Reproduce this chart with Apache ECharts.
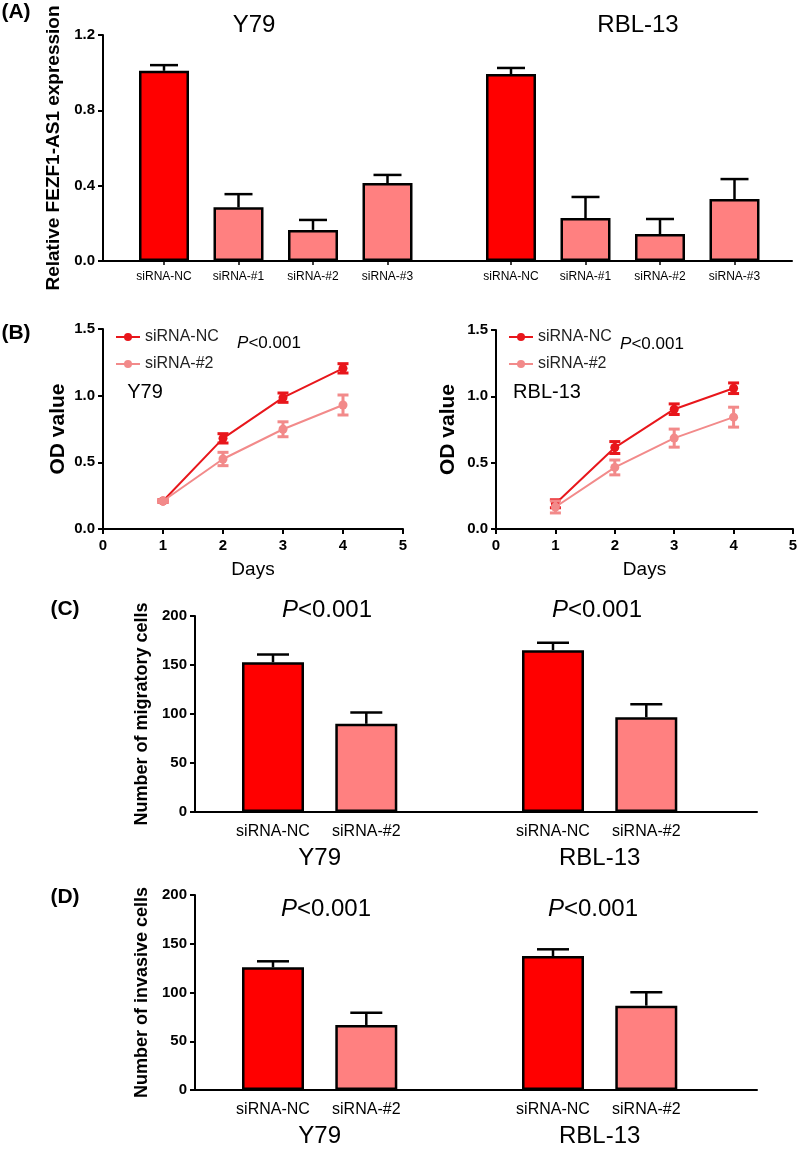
<!DOCTYPE html>
<html><head><meta charset="utf-8">
<script src="https://cdn.jsdelivr.net/npm/echarts@6/dist/echarts.min.js"></script>
<style>html,body{margin:0;padding:0;background:#fff}#c{width:800px;height:1149px}</style>
</head><body><div id="c"></div>
<script>
// ---------- DATA ----------
// Panel A: relative FEZF1-AS1 expression
const aCategories = ['siRNA-NC', 'siRNA-#1', 'siRNA-#2', 'siRNA-#3'];
const aY79Mean = [1.01, 0.285, 0.165, 0.414];
const aY79Sd   = [0.03, 0.07, 0.053, 0.043];
const aRblMean = [0.993, 0.228, 0.143, 0.329];
const aRblSd   = [0.032, 0.112, 0.08, 0.106];
// Panel B: OD value over days
const bDays = [1, 2, 3, 4];
const bY79NcMean = [0.21, 0.68, 0.985, 1.205];
const bY79NcSd   = [0.01, 0.035, 0.035, 0.035];
const bY79Si2Mean = [0.21, 0.525, 0.748, 0.93];
const bY79Si2Sd   = [0.01, 0.05, 0.056, 0.075];
const bRblNcMean = [0.19, 0.614, 0.903, 1.061];
const bRblNcSd   = [0.03, 0.045, 0.04, 0.04];
const bRblSi2Mean = [0.166, 0.464, 0.685, 0.843];
const bRblSi2Sd   = [0.045, 0.056, 0.068, 0.075];
const bSeriesNames = ['siRNA-NC', 'siRNA-#2'];
// Panels C & D
const cdCategories = ['siRNA-NC', 'siRNA-#2'];
const cellLines = ['Y79', 'RBL-13'];
const cY79Mean = [152.8, 90.0];
const cY79Sd   = [7.9, 11.5];
const cRblMean = [165.1, 96.8];
const cRblSd   = [7.6, 13.2];
const dY79Mean = [125.8, 66.7];
const dY79Sd   = [6.2, 12.6];
const dRblMean = [137.4, 86.5];
const dRblSd   = [6.9, 13.7];
const pText = 'P<0.001';

// ---------- STYLE ----------
const FONT = '"Liberation Sans", Arial, Helvetica, sans-serif';
const RED = '#FF0000', PINK = '#FF8080';
const LINE_RED = '#E8161B', LINE_PINK = '#F28A8A';

const chart = echarts.init(document.getElementById('c'), null, {renderer: 'canvas'});

const grids = [], xAxes = [], yAxes = [], series = [];

function frameAxes(g, ymin, ymax, yint, decimals, name, nameSize, nameGap) {
  const idx = grids.length;
  grids.push(Object.assign({outerBoundsMode: 'none'}, g));
  xAxes.push({gridIndex: idx, type: 'value', min: 0, max: 1,
    axisLine: {show: true, lineStyle: {color: '#000', width: 2}},
    axisTick: {show: false}, axisLabel: {show: false}, splitLine: {show: false}});
  yAxes.push({gridIndex: idx, type: 'value', min: ymin, max: ymax, interval: yint,
    axisLine: {show: true, lineStyle: {color: '#000', width: 2}},
    axisTick: {show: true, inside: false, length: 5, lineStyle: {color: '#000', width: 2}},
    axisLabel: {fontSize: 15, fontWeight: 'bold', color: '#000', fontFamily: FONT, margin: 8,
      formatter: v => v.toFixed(decimals)},
    splitLine: {show: false},
    name: name, nameLocation: 'middle', nameGap: nameGap,
    nameTextStyle: {fontSize: nameSize, fontWeight: 'bold', color: '#000', fontFamily: FONT}});
  return idx;
}

function upErr(capW) {
  return function (params, api) {
    const x = api.value(0), m = api.value(1), s = api.value(2);
    const b = api.coord([x, m]);
    const t = api.coord([x, m + s]);
    return {type: 'group', children: [
      {type: 'line', shape: {x1: b[0], y1: b[1], x2: t[0], y2: t[1]}, style: {stroke: '#000', lineWidth: 2.5}},
      {type: 'line', shape: {x1: t[0] - capW / 2, y1: t[1], x2: t[0] + capW / 2, y2: t[1]}, style: {stroke: '#000', lineWidth: 2.5}}
    ]};
  };
}

function innerBars(g, cats, means, sds, ymin, ymax, barW, capW, labelSize, labelMargin, showTicks, groupName, groupGap) {
  const idx = grids.length;
  grids.push(Object.assign({outerBoundsMode: 'none'}, g));
  xAxes.push({gridIndex: idx, type: 'category', data: cats,
    axisLine: {show: false},
    axisTick: {show: showTicks, alignWithLabel: true, length: 4, lineStyle: {color: '#000', width: 1.5}},
    axisLabel: {fontSize: labelSize, color: '#000', fontFamily: FONT, margin: labelMargin, interval: 0},
    splitLine: {show: false},
    name: groupName || '', nameLocation: 'middle', nameGap: groupGap || 0,
    nameTextStyle: {fontSize: 24, color: '#000', fontFamily: FONT}});
  yAxes.push({gridIndex: idx, type: 'value', min: ymin, max: ymax, show: false});
  series.push({type: 'bar', xAxisIndex: idx, yAxisIndex: idx, barWidth: barW,
    data: means.map((m, i) => ({value: m, itemStyle: {color: i === 0 ? RED : PINK}})),
    itemStyle: {borderColor: '#000', borderWidth: 2.5}, z: 2});
  series.push({type: 'custom', xAxisIndex: idx, yAxisIndex: idx, renderItem: upErr(capW),
    data: means.map((m, i) => [i, m, sds[i]]), encode: {x: 0, y: 1}, z: 3});
}

// ----- Panel A -----
frameAxes({left: 103, top: 35, width: 689, height: 226}, 0, 1.2, 0.4, 1, 'Relative FEZF1-AS1 expression', 19, 34);
innerBars({left: 126.75, top: 35, width: 298, height: 226}, aCategories, aY79Mean, aY79Sd, 0, 1.2, 50, 28, 12, 10, true);
innerBars({left: 473.75, top: 35, width: 298, height: 226}, aCategories, aRblMean, aRblSd, 0, 1.2, 50, 28, 12, 10, true);

// ----- Panel B -----
function lineChart(g, nameGapY, ncMean, ncSd, s2Mean, s2Sd) {
  const idx = grids.length;
  grids.push(Object.assign({outerBoundsMode: 'none'}, g));
  xAxes.push({gridIndex: idx, type: 'value', min: 0, max: 5, interval: 1,
    axisLine: {show: true, lineStyle: {color: '#000', width: 2}},
    axisTick: {show: true, length: 5, lineStyle: {color: '#000', width: 2}},
    axisLabel: {fontSize: 15, fontWeight: 'bold', color: '#000', fontFamily: FONT, margin: 9},
    splitLine: {show: false},
    name: 'Days', nameLocation: 'middle', nameGap: 31,
    nameTextStyle: {fontSize: 19, color: '#000', fontFamily: FONT}});
  yAxes.push({gridIndex: idx, type: 'value', min: 0, max: 1.5, interval: 0.5,
    axisLine: {show: true, lineStyle: {color: '#000', width: 2}},
    axisTick: {show: true, length: 5, lineStyle: {color: '#000', width: 2}},
    axisLabel: {fontSize: 15, fontWeight: 'bold', color: '#000', fontFamily: FONT, margin: 8,
      formatter: v => v.toFixed(1)},
    splitLine: {show: false},
    name: 'OD value', nameLocation: 'middle', nameGap: nameGapY,
    nameTextStyle: {fontSize: 21, fontWeight: 'bold', color: '#000', fontFamily: FONT}});
  const defs = [[bSeriesNames[0], ncMean, ncSd, LINE_RED], [bSeriesNames[1], s2Mean, s2Sd, LINE_PINK]];
  defs.forEach(([name, mean, sd, col], k) => {
    series.push({type: 'line', name: name, xAxisIndex: idx, yAxisIndex: idx,
      data: bDays.map((d, i) => [d, mean[i]]),
      symbol: 'circle', symbolSize: 9, showSymbol: true,
      lineStyle: {color: col, width: 2}, itemStyle: {color: col}, z: 3 + k});
    series.push({type: 'custom', name: name + ' err', xAxisIndex: idx, yAxisIndex: idx,
      data: bDays.map((d, i) => [d, mean[i], sd[i]]), encode: {x: 0, y: 1}, z: 3 + k,
      renderItem: function (params, api) {
        const x = api.value(0), m = api.value(1), s = api.value(2);
        const lo = api.coord([x, m - s]), hi = api.coord([x, m + s]);
        const cw = 11;
        const st = {stroke: col, lineWidth: 3};
        return {type: 'group', children: [
          {type: 'line', shape: {x1: lo[0], y1: lo[1], x2: hi[0], y2: hi[1]}, style: st},
          {type: 'line', shape: {x1: lo[0] - cw / 2, y1: lo[1], x2: lo[0] + cw / 2, y2: lo[1]}, style: st},
          {type: 'line', shape: {x1: hi[0] - cw / 2, y1: hi[1], x2: hi[0] + cw / 2, y2: hi[1]}, style: st}
        ]};
      }});
  });
}
lineChart({left: 103, top: 329, width: 300, height: 200}, 34, bY79NcMean, bY79NcSd, bY79Si2Mean, bY79Si2Sd);
lineChart({left: 496, top: 330, width: 297, height: 199}, 37, bRblNcMean, bRblNcSd, bRblSi2Mean, bRblSi2Sd);

// ----- Panel C -----
frameAxes({left: 195, top: 616, width: 562, height: 196}, 0, 200, 50, 0, 'Number of migratory cells', 18, 39);
innerBars({left: 226.35, top: 616, width: 186.6, height: 196}, cdCategories, cY79Mean, cY79Sd, 0, 200, 62, 32, 16, 12, false, cellLines[0], 34);
innerBars({left: 506.35, top: 616, width: 186.6, height: 196}, cdCategories, cRblMean, cRblSd, 0, 200, 62, 32, 16, 12, false, cellLines[1], 34);

// ----- Panel D -----
frameAxes({left: 195, top: 895, width: 562, height: 195}, 0, 200, 50, 0, 'Number of invasive cells', 18, 39);
innerBars({left: 226.35, top: 895, width: 186.6, height: 195}, cdCategories, dY79Mean, dY79Sd, 0, 200, 62, 32, 16, 12, false, cellLines[0], 34);
innerBars({left: 506.35, top: 895, width: 186.6, height: 195}, cdCategories, dRblMean, dRblSd, 0, 200, 62, 32, 16, 12, false, cellLines[1], 34);

// ---------- TEXT ----------
function txt(x, y, text, size, opts) {
  return Object.assign({type: 'text', x: x, y: y, silent: true,
    style: Object.assign({text: text, fontSize: size, fontFamily: FONT, fill: '#000',
      align: 'center', verticalAlign: 'middle'}, opts || {})});
}
function pTxt(x, y, size) {
  return txt(x, y, '{i|P}<0.001', size, {rich: {i: {fontStyle: 'italic', fontSize: size, fontFamily: FONT, fill: '#000'}}});
}
const graphics = [
  txt(16, 12, '(A)', 21, {fontWeight: 'bold'}),
  txt(16, 333, '(B)', 21, {fontWeight: 'bold'}),
  txt(65, 609, '(C)', 21, {fontWeight: 'bold'}),
  txt(65, 897, '(D)', 21, {fontWeight: 'bold'}),
  txt(254, 25, cellLines[0], 24),
  txt(638, 25, cellLines[1], 24),
  pTxt(269, 343, 17),
  txt(145, 392, cellLines[0], 20),
  pTxt(652, 344, 17),
  txt(547, 392, cellLines[1], 20),
  pTxt(327, 610, 24),
  pTxt(597, 610, 24),
  pTxt(326, 909, 24),
  pTxt(593, 909, 24)
];

chart.setOption({
  animation: false,
  backgroundColor: '#fff',
  textStyle: {fontFamily: FONT},
  legend: [
    {left: 110, top: 324, orient: 'vertical', data: bSeriesNames, itemWidth: 24, itemHeight: 10, itemGap: 11,
      textStyle: {fontSize: 16, color: '#222', fontFamily: FONT}, selectedMode: false},
    {left: 503, top: 324, orient: 'vertical', data: bSeriesNames, itemWidth: 24, itemHeight: 10, itemGap: 11,
      textStyle: {fontSize: 16, color: '#222', fontFamily: FONT}, selectedMode: false}
  ],
  grid: grids, xAxis: xAxes, yAxis: yAxes, series: series, graphic: graphics
});
</script></body></html>
